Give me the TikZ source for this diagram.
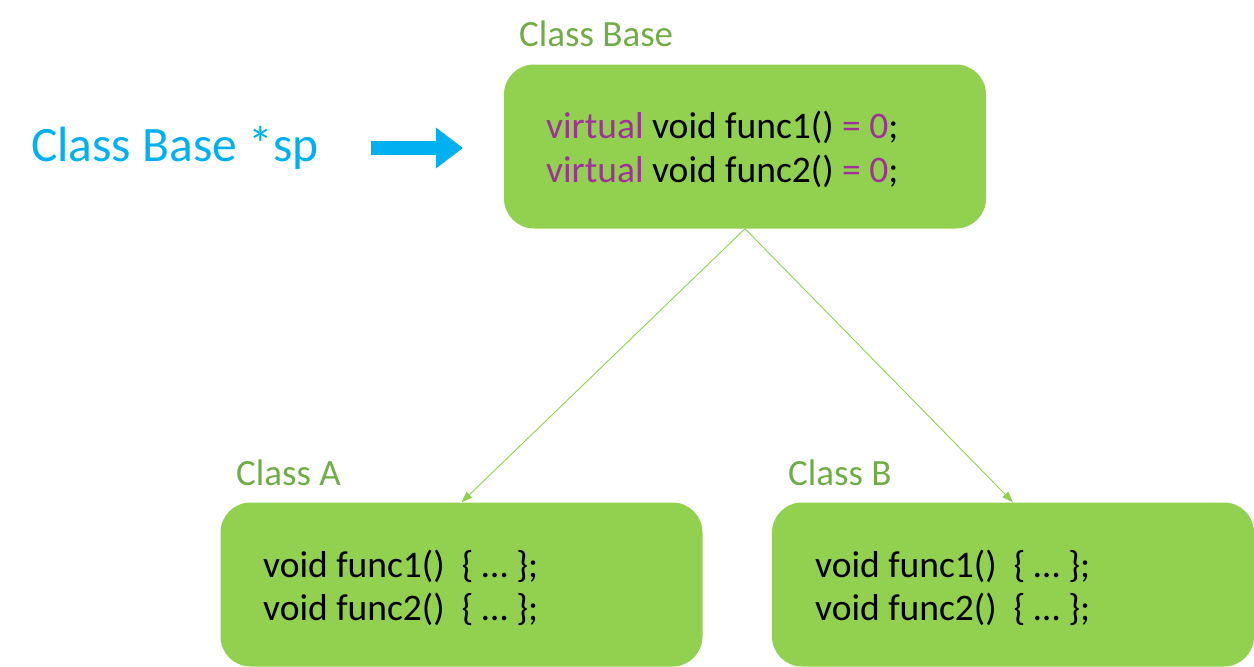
\documentclass[tikz,border=0pt]{standalone}
\usepackage{fontspec}
\setmainfont{Carlito}
\usetikzlibrary{arrows.meta}
\definecolor{boxgreen}{HTML}{92D050}
\definecolor{labgreen}{HTML}{70AD47}
\definecolor{kwpurple}{HTML}{A0309A}
\definecolor{ptrblue}{HTML}{00B0F0}
\tikzset{
  classbox/.style={fill=boxgreen, draw=none, rounded corners=30pt, minimum width=482pt, minimum height=164pt, inner sep=0pt},
  classlabel/.style={text=labgreen, anchor=base west, inner sep=0pt, font=\fontsize{37}{44}\selectfont},
  codeline/.style={text=black, anchor=base west, inner sep=0pt, font=\fontsize{37.5}{44}\selectfont},
  inherit/.style={draw=boxgreen, line width=0.9pt, -{Triangle[length=11pt,width=8pt]}},
}
\newcommand{\kw}[1]{\textcolor{kwpurple}{#1}}
\begin{document}
\begin{tikzpicture}[x=1pt,y=-1pt]
\useasboundingbox (0,0) rectangle (1254,667);
% boxes
\node[classbox] (base) at (745,146.5) {};
\node[classbox] (clsA) at (461.5,584.5) {};
\node[classbox] (clsB) at (1013,584.5) {};
% labels
\node[classlabel] (lbase) at (519,46) {Class Base};
\node[classlabel] (lA) at (236,485) {Class A};
\node[classlabel] (lB) at (788,485) {Class B};
% code
\node[codeline] (b1) at (546,138) {\kw{virtual} void func1() \kw{= 0};};
\node[codeline] (b2) at (546,182) {\kw{virtual} void func2() \kw{= 0};};
\node[codeline] (a1) at (263,577) {void func1()\ \ \{ … \};};
\node[codeline] (a2) at (263,620) {void func2()\ \ \{ … \};};
\node[codeline] (c1) at (815,577) {void func1()\ \ \{ … \};};
\node[codeline] (c2) at (815,620) {void func2()\ \ \{ … \};};
% pointer
\node[text=ptrblue, anchor=base west, inner sep=0pt, font=\fontsize{49.5}{56}\selectfont] (sp) at (31,161) {Class Base *sp};
\coordinate (ptrs) at (371,148);
\coordinate (ptre) at (463,148);
\draw[ptrblue, line width=14pt, -{Triangle[length=27pt,width=39pt]}] (ptrs) -- (ptre);
% inheritance connectors
\draw[inherit] (base.south) -- (clsA.north);
\draw[inherit] (base.south) -- (clsB.north);
\end{tikzpicture}
\end{document}
